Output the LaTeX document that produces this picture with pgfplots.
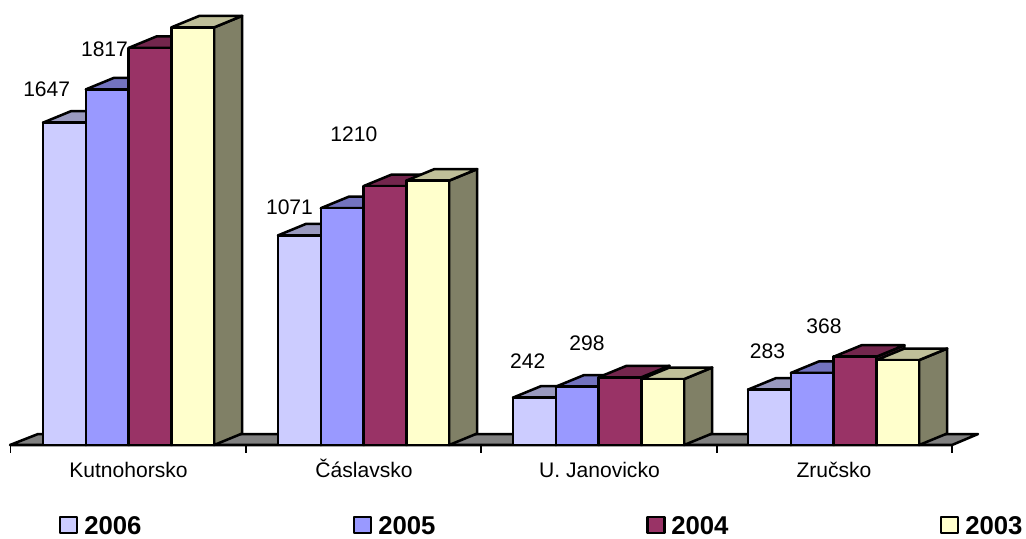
\documentclass[border=0pt]{standalone}
\usepackage{fontspec}
\setmainfont{Liberation Sans}
\usepackage{pgfplots}
\pgfplotsset{compat=1.18}

\definecolor{front06}{HTML}{CCCCFF}\definecolor{top06}{HTML}{9999BF}\definecolor{side06}{HTML}{666680}
\definecolor{front05}{HTML}{9999FF}\definecolor{top05}{HTML}{7373BF}\definecolor{side05}{HTML}{4D4D80}
\definecolor{front04}{HTML}{993366}\definecolor{top04}{HTML}{73264D}\definecolor{side04}{HTML}{4D1A33}
\definecolor{front03}{HTML}{FFFFCC}\definecolor{top03}{HTML}{BFBF99}\definecolor{side03}{HTML}{808066}
\definecolor{floorgray}{HTML}{808080}

% Depth of the extruded faces: 28 along x, 58.8 value units along y; bar width 42.8
\tikzset{
  face/.style={draw=black,line width=1.9pt,line join=round,fill=#1},
  lab/.style={font=\fontsize{15.8}{18}\selectfont, inner sep=0pt, anchor=center},
  cat/.style={font=\fontsize{15.8}{18}\selectfont, inner sep=0pt, anchor=base},
  leg/.style={font=\fontsize{19.3}{22}\selectfont\bfseries, inner sep=0pt, anchor=base west},
}
\newcommand{\barthree}[3]{%
  \pgfmathsetmacro{\xa}{#1}%
  \pgfmathsetmacro{\xb}{#1+42.8}%
  \pgfmathsetmacro{\xc}{#1+28}%
  \pgfmathsetmacro{\xd}{#1+70.8}%
  \pgfmathsetmacro{\va}{#2}%
  \pgfmathsetmacro{\vb}{#2+58.8}%
  \edef\drawbar{%
    \noexpand\addplot[face=side#3] coordinates {(\xb,0) (\xd,58.8) (\xd,\vb) (\xb,\va)} -- cycle;
    \noexpand\addplot[face=top#3] coordinates {(\xa,\va) (\xc,\vb) (\xd,\vb) (\xb,\va)} -- cycle;
    \noexpand\addplot[face=front#3] coordinates {(\xa,0) (\xa,\va) (\xb,\va) (\xb,0)} -- cycle;
  }\drawbar}
\newcommand{\legsquare}[2]{%
  \pgfmathsetmacro{\xa}{#1}\pgfmathsetmacro{\xb}{#1+17}%
  \edef\drawsq{%
    \noexpand\addplot[face=front#2] coordinates {(\xa,-368) (\xa,-450) (\xb,-450) (\xb,-368)} -- cycle;
  }\drawsq}

\begin{document}
\begin{tikzpicture}
\path[use as bounding box] (0,0) rectangle (769.5pt,404.25pt);
\begin{axis}[
  at={(0,0)}, anchor=south west,
  scale only axis, width=769.5pt, height=404.25pt,
  xmin=0, xmax=1026, ymin=-480.3, ymax=2273.9,
  hide axis, clip=false,
]
% Floor of the chart
\addplot[face=floorgray] coordinates {(10,0) (38,56) (978,56) (952,0)} -- cycle;

% Kutnohorsko
\barthree{43}{1647}{06}
\barthree{85.8}{1817}{05}
\barthree{128.6}{2029}{04}
\barthree{171.4}{2134}{03}
% Cáslavsko
\barthree{278}{1071}{06}
\barthree{320.8}{1210}{05}
\barthree{363.6}{1323}{04}
\barthree{406.4}{1351}{03}
% U. Janovicko
\barthree{513}{242}{06}
\barthree{555.8}{298}{05}
\barthree{598.6}{346}{04}
\barthree{641.4}{337}{03}
% Zrucsko
\barthree{748}{283}{06}
\barthree{790.8}{368}{05}
\barthree{833.6}{451}{04}
\barthree{876.4}{434}{03}

% Category axis and its ticks
\addplot[black, line width=2.2pt] coordinates {(10,0) (952,0)};
\addplot[black, line width=1.2pt] coordinates {(10.5,0) (10.5,-41)};
\addplot[black, line width=1.2pt] coordinates {(246,0) (246,-41)};
\addplot[black, line width=1.2pt] coordinates {(481,0) (481,-41)};
\addplot[black, line width=1.2pt] coordinates {(717,0) (717,-41)};
\addplot[black, line width=1.2pt] coordinates {(952,0) (952,-41)};

% Value labels
\node[lab] at (axis cs:46.7,1817) {1647};
\node[lab] at (axis cs:104.5,2022) {1817};
\node[lab] at (axis cs:289.5,1215) {1071};
\node[lab] at (axis cs:353.8,1589) {1210};
\node[lab] at (axis cs:527.8,426) {242};
\node[lab] at (axis cs:587,520) {298};
\node[lab] at (axis cs:767.5,477) {283};
\node[lab] at (axis cs:824,605) {368};

% Category names
\node[cat] at (axis cs:128.5,-168.6) {Kutnohorsko};
\node[cat] at (axis cs:364,-168.6) {Čáslavsko};
\node[cat] at (axis cs:599.5,-168.6) {U. Janovicko};
\node[cat] at (axis cs:834,-168.6) {Zručsko};

% Legend
\legsquare{60}{06}
\legsquare{354}{05}
\legsquare{647.5}{04}
\legsquare{941}{03}
\node[leg] at (axis cs:84,-454.8) {2006};
\node[leg] at (axis cs:378,-454.8) {2005};
\node[leg] at (axis cs:671,-454.8) {2004};
\node[leg] at (axis cs:965,-454.8) {2003};
\end{axis}
\end{tikzpicture}
\end{document}
